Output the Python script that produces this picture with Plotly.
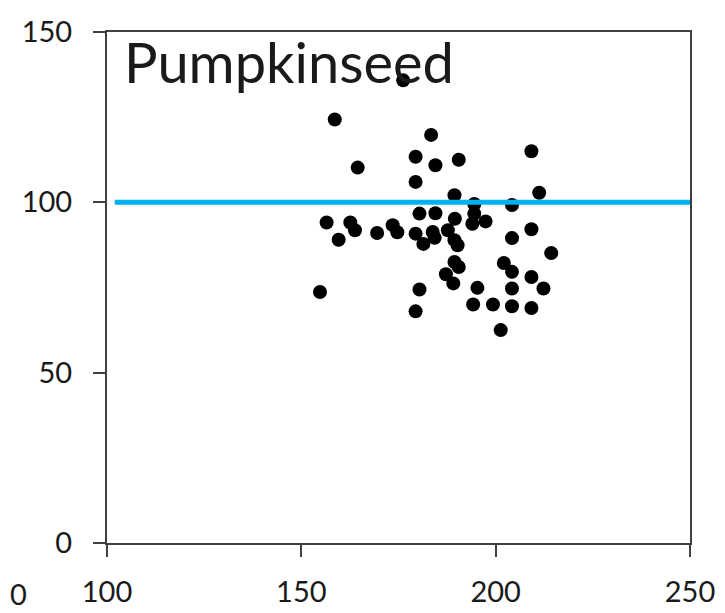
import plotly.graph_objects as go

# Pumpkinseed: x vs y
x_vals = [176.2, 158.6, 183.4, 179.4, 184.5, 164.5, 190.5, 209.2, 179.4, 189.4,
          211.2, 194.5, 204.2, 156.5, 162.6, 163.8, 159.6, 169.5, 173.5, 174.7,
          180.4, 184.5, 189.5, 194.5, 197.4, 194.0, 179.4, 183.8, 184.3, 181.4,
          187.7, 189.4, 190.2, 209.2, 204.2, 214.3, 189.4, 190.5, 187.2, 189.1,
          202.1, 204.2, 209.2, 212.3, 204.2, 195.3, 180.4, 179.4, 194.2, 199.3,
          204.2, 209.2, 201.3, 154.8]
y_vals = [135.8, 124.3, 119.8, 113.4, 110.9, 110.2, 112.5, 115.0, 106.0, 102.1,
          102.8, 99.5, 99.2, 94.1, 94.1, 91.8, 89.0, 91.0, 93.3, 91.2,
          96.7, 96.8, 95.2, 96.7, 94.4, 93.7, 90.8, 91.3, 89.6, 87.8,
          91.8, 88.9, 87.4, 92.1, 89.5, 85.1, 82.5, 81.0, 78.9, 76.2,
          82.2, 79.6, 78.1, 74.7, 74.7, 74.9, 74.4, 68.0, 70.0, 70.0,
          69.5, 69.0, 62.5, 73.7]

ref_x = [102, 250]
ref_y = [100, 100]

x_ticks = [100, 150, 200, 250]
y_ticks = [0, 50, 100, 150]

FONT = "Lato, 'Open Sans', sans-serif"
AXIS_COL = "#404040"
TEXT_COL = "#1a1a1a"

fig = go.Figure()
fig.add_trace(go.Scatter(
    x=x_vals, y=y_vals, mode="markers",
    marker=dict(color="black", size=14),
    showlegend=False,
))
fig.add_trace(go.Scatter(
    x=ref_x, y=ref_y, mode="lines",
    line=dict(color="#00B0F0", width=5),
    showlegend=False,
))

fig.add_annotation(
    text="Pumpkinseed", xref="paper", yref="paper", x=0.02, y=1.0,
    xanchor="left", yanchor="top", showarrow=False, xshift=3, yshift=6,
    font=dict(size=56, color=TEXT_COL, family=FONT),
)
# tick label left over from the neighbouring panel
fig.add_annotation(
    text="0", xref="paper", yref="paper", x=-0.17, y=-0.098,
    xanchor="left", yanchor="middle", showarrow=False,
    font=dict(size=29, color=TEXT_COL, family=FONT),
)

# page body has an 8px default margin, so the figure is 8px smaller each way
fig.update_layout(
    width=717, height=605,
    paper_bgcolor="white", plot_bgcolor="white",
    font=dict(family=FONT, size=29, color=TEXT_COL),
    margin=dict(l=99, r=35, t=24, b=70, autoexpand=False),
    xaxis=dict(range=[100, 250], tickvals=x_ticks, showgrid=False, zeroline=False,
               showline=True, linecolor=AXIS_COL, linewidth=2, mirror=True,
               ticks="outside", ticklen=12, tickwidth=2, tickcolor=AXIS_COL,
               ticklabelstandoff=10, automargin=False),
    yaxis=dict(range=[0, 150], tickvals=y_ticks, showgrid=False, zeroline=False,
               showline=True, linecolor=AXIS_COL, linewidth=2, mirror=True,
               ticks="outside", ticklen=12, tickwidth=2, tickcolor=AXIS_COL,
               ticklabelstandoff=15, automargin=False),
)

fig.write_html("out.html")
